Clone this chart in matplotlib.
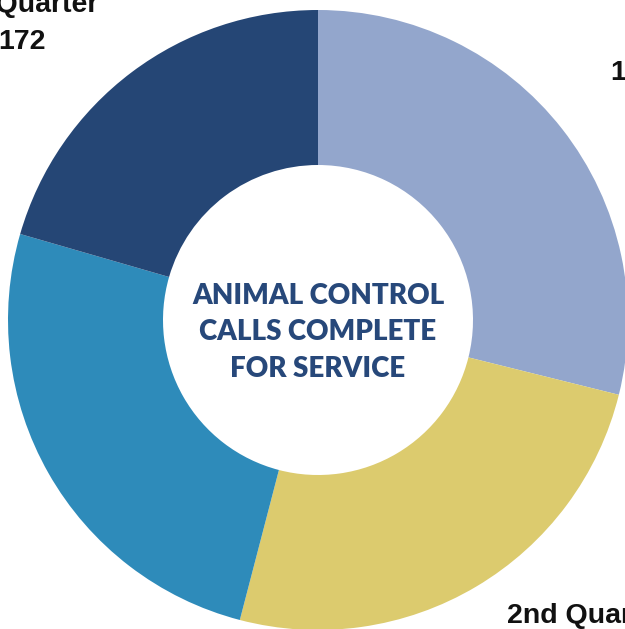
import matplotlib
matplotlib.use("Agg")
import matplotlib.pyplot as plt

# Datos
trimestres = ["1st Quarter", "2nd Quarter", "3rd Quarter", "4th Quarter"]
llamadas = [242, 211, 213, 172]
colores = ["#93A6CC", "#DCCB6E", "#2E8BBA", "#254675"]
titulo_centro = "ANIMAL CONTROL\nCALLS COMPLETE\nFOR SERVICE"

# Posición de las etiquetas (en radios desde el centro)
pos_etiquetas = [(1.19, 0.737), (0.87, -1.015), (-1.6, -1.3), (-0.955, 0.958)]

fig = plt.figure(figsize=(6.25, 6.29), dpi=100)
ax = fig.add_axes([8 / 625, -1 / 629, 620 / 625, 620 / 629])

ax.pie(llamadas, colors=colores, startangle=90, counterclock=False,
       radius=1, wedgeprops=dict(width=0.5, linewidth=0))

for nombre, valor, (x, y) in zip(trimestres, llamadas, pos_etiquetas):
    ax.text(x, y, f"{nombre}\n{valor}", ha="center", va="center",
            fontsize=20.5, fontweight="bold", family="Liberation Sans",
            linespacing=1.55, color="#111111", clip_on=False)

ax.text(0, -0.04, titulo_centro, ha="center", va="center", fontsize=20,
        fontweight="heavy", family="Lato", color="#27487A", linespacing=1.5)

ax.set_xlim(-1, 1)
ax.set_ylim(-1, 1)
ax.set_aspect("equal")
ax.axis("off")

fig.savefig("out.png", dpi=100)
